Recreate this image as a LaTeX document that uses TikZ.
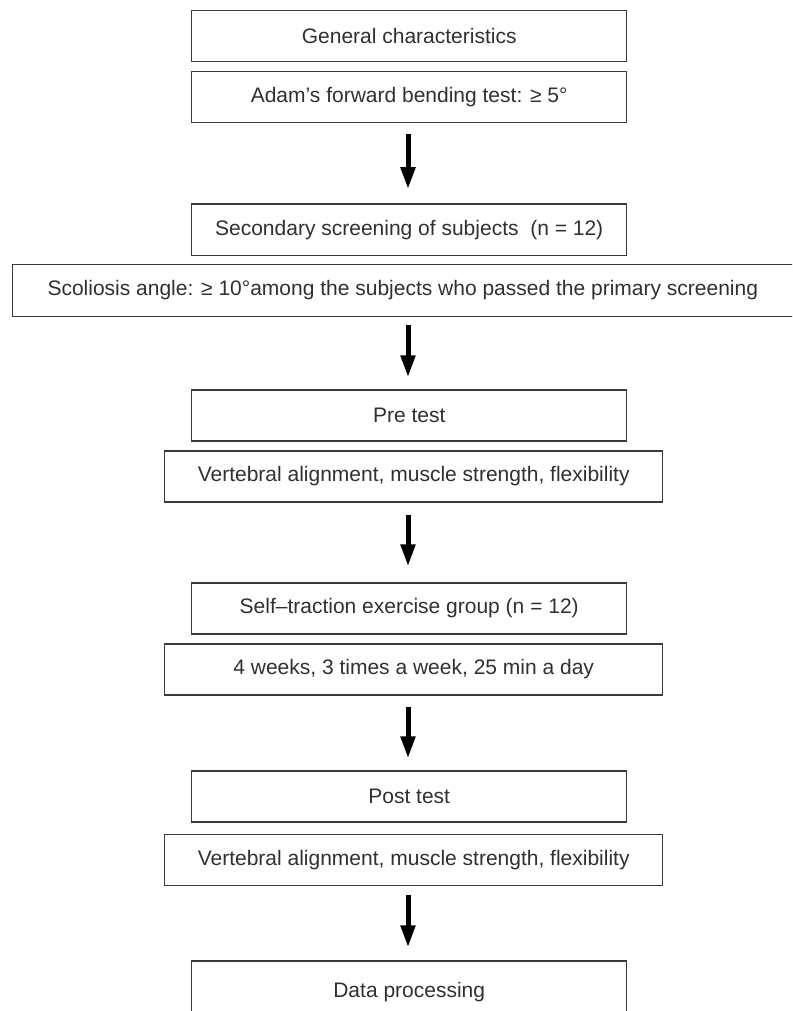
\documentclass[tikz,border=0pt]{standalone}
\usepackage{fontspec}
\setmainfont{Liberation Sans}
\usetikzlibrary{arrows.meta}
\definecolor{boxline}{HTML}{3A3A3A}
\definecolor{boxtext}{HTML}{303030}
\tikzset{
  flowbox/.style={draw=boxline, line width=1.3pt, rectangle, inner sep=0pt,
    text=boxtext, font=\fontsize{21}{25}\selectfont},
  narrowbox/.style={flowbox, minimum width=435pt},
  widebox/.style={flowbox, minimum width=498pt},
  flowarrow/.style={draw=black, line width=5pt,
    -{Triangle[width=14pt,length=22pt]}}
}
\begin{document}
\begin{tikzpicture}[x=1pt,y=-1pt]
\useasboundingbox (0,0) rectangle (792,1011);
\clip (0,0) rectangle (792,1011);
\node[narrowbox, minimum height=51.5pt] (b1) at (409.2,36) {General characteristics};
\node[narrowbox, minimum height=51.5pt] (b2) at (409.2,97) {Adam’s forward bending test: ≥ 5°};
\node[narrowbox, minimum height=51.5pt] (b3) at (409.2,229.6) {Secondary screening of subjects\ \ (n = 12)};
\node[flowbox, minimum width=781pt, minimum height=51.5pt] (b4) at (402.8,290.5) {Scoliosis angle: ≥ 10°among the subjects who passed the primary screening};
\node[narrowbox, minimum height=51pt] (b5) at (409.2,415.5) {Pre test};
\node[widebox, minimum height=51pt] (b6) at (413.7,476.5) {Vertebral alignment, muscle strength, flexibility};
\node[narrowbox, minimum height=51pt] (b7) at (409.2,608.5) {Self–traction exercise group (n = 12)};
\node[widebox, minimum height=51pt] (b8) at (413.7,669.5) {4 weeks, 3 times a week, 25 min a day};
\node[narrowbox, minimum height=51pt] (b9) at (409.2,796.5) {Post test};
\node[widebox, minimum height=51.5pt] (b10) at (413.7,860) {Vertebral alignment, muscle strength, flexibility};
\node[narrowbox, minimum height=62pt] (b11) at (409.2,992) {Data processing};
\draw[flowarrow, shorten <=11pt, shorten >=14pt] (b2.south -| 408,0) -- (b3.north -| 408,0);
\draw[flowarrow, shorten <=8pt, shorten >=12pt] (b4.south -| 408,0) -- (b5.north -| 408,0);
\draw[flowarrow, shorten <=12pt, shorten >=16pt] (b6.south -| 408,0) -- (b7.north -| 408,0);
\draw[flowarrow, shorten <=11pt, shorten >=12pt] (b8.south -| 408,0) -- (b9.north -| 408,0);
\draw[flowarrow, shorten <=9pt, shorten >=13pt] (b10.south -| 408,0) -- (b11.north -| 408,0);
\end{tikzpicture}
\end{document}
